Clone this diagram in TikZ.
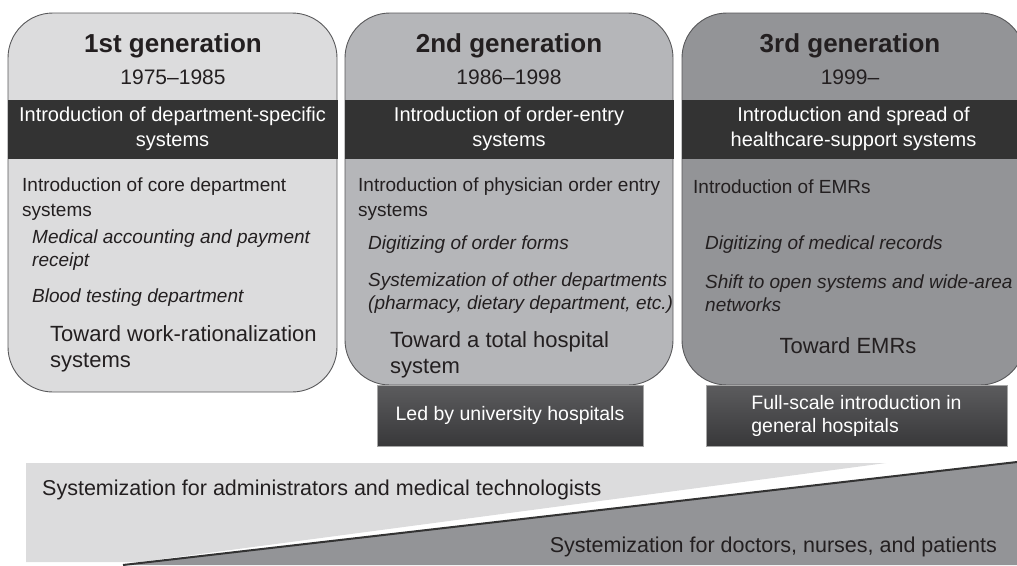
\documentclass[tikz,border=0pt]{standalone}
\usepackage{fontspec}
\setmainfont{Liberation Sans}
\usetikzlibrary{positioning}
\definecolor{genA}{HTML}{DCDCDD}
\definecolor{genB}{HTML}{B5B6B9}
\definecolor{genC}{HTML}{939497}
\definecolor{band}{HTML}{333333}
\definecolor{ink}{HTML}{231F20}
\definecolor{rim}{HTML}{58585A}
\definecolor{leadtop}{HTML}{5C5C5E}
\definecolor{leadbot}{HTML}{38383A}
\begin{document}
\begin{tikzpicture}[x=1pt, y=-1pt,
    genbox/.style ={draw=rim, line width=0.9pt, rounded corners=45pt, inner sep=0pt},
    bandbar/.style ={fill=band, draw=band, minimum height=58pt, inner sep=0pt, text=white, align=center, font=\fontsize{20}{25}\selectfont},
    gentitle/.style ={font=\fontsize{26}{30}\selectfont\bfseries, text=ink, inner sep=0pt},
    genyears/.style ={font=\fontsize{21}{25}\selectfont, text=ink, inner sep=0pt},
    body/.style ={font=\fontsize{19}{25}\selectfont, text=ink, align=left, anchor=west, inner sep=0pt},
    item/.style ={body, font=\fontsize{19}{23}\selectfont\itshape},
    toward/.style ={body, font=\fontsize{22}{26}\selectfont},
    leadbox/.style ={draw=gray!70, top color=leadtop, bottom color=leadbot, inner sep=0pt, text=white, font=\fontsize{19.5}{23}\selectfont},
    wedgetext/.style ={font=\fontsize{21.5}{26}\selectfont, text=ink, inner sep=0pt}]
   \useasboundingbox (0,0) rectangle (1017,565);
   \clip (0,0) rectangle (1017,565);

   % generation boxes
   \node[genbox, fill=genA, minimum width=329pt, minimum height=379pt] (gen1) at (172.5,202.5) {};
   \node[genbox, fill=genB, minimum width=328pt, minimum height=372pt] (gen2) at (509,199) {};
   \node[genbox, fill=genC, minimum width=343pt, minimum height=372pt] (gen3) at (853.5,199) {};

   \node[bandbar, minimum width=329pt] (band1) at (172.5,129) {Introduction of department-specific\\systems};
   \node[bandbar, minimum width=328pt] (band2) at (509,129) {Introduction of order-entry\\systems};
   \node[bandbar, minimum width=343pt] (band3) at (853.5,129) {Introduction and spread of\\healthcare-support systems};

   % 1st generation
   \node[gentitle] (title1) at (173,46) {1st generation};
   \node[genyears] (years1) at (173,77) {1975--1985};
   \node[body] (core1) at (22,199) {Introduction of core department\\systems};
   \node[item] (acct1) at (32,250) {Medical accounting and payment\\receipt};
   \node[item] (blood1) at (32,298) {Blood testing department};
   \node[toward] (goal1) at (50,349) {Toward work-rationalization\\systems};

   % 2nd generation
   \node[gentitle] (title2) at (509,46) {2nd generation};
   \node[genyears] (years2) at (509,77) {1986--1998};
   \node[body] (core2) at (358,199) {Introduction of physician order entry\\systems};
   \node[item] (order2) at (368,245) {Digitizing of order forms};
   \node[item] (other2) at (368,293) {Systemization of other departments\\(pharmacy, dietary department, etc.)};
   \node[toward] (goal2) at (390,355) {Toward a total hospital\\system};

   % 3rd generation
   \node[gentitle] (title3) at (850,46) {3rd generation};
   \node[genyears] (years3) at (850,77) {1999--};
   \node[body] (core3) at (693,187) {Introduction of EMRs};
   \node[item] (record3) at (705,245) {Digitizing of medical records};
   \node[item] (net3) at (705,293) {Shift to open systems and wide-area\\networks};
   \node[toward, anchor=center] (goal3) at (848,346) {Toward EMRs};

   % leaders
   \node[leadbox, minimum width=266pt, minimum height=61pt] (led) at (510,415.5) {Led by university hospitals};
   \node[leadbox, minimum width=301pt, minimum height=61pt, align=left] (full) at (856.5,415.5) {Full-scale introduction in\\general hospitals};

   % users wedge
   \fill[genA] (26,463) -- (886,463) -- (140,562) -- (26,562) -- cycle;
   \fill[genC] (1017,462) -- (1017,565) -- (123,565) -- cycle;
   \draw[band, line width=2pt] (123,565) -- (1017,462);
   \node[wedgetext, anchor=west] (admin) at (42,490) {Systemization for administrators and medical technologists};
   \node[wedgetext, anchor=east] (clinic) at (997,547) {Systemization for doctors, nurses, and patients};
 \end{tikzpicture}
\end{document}
